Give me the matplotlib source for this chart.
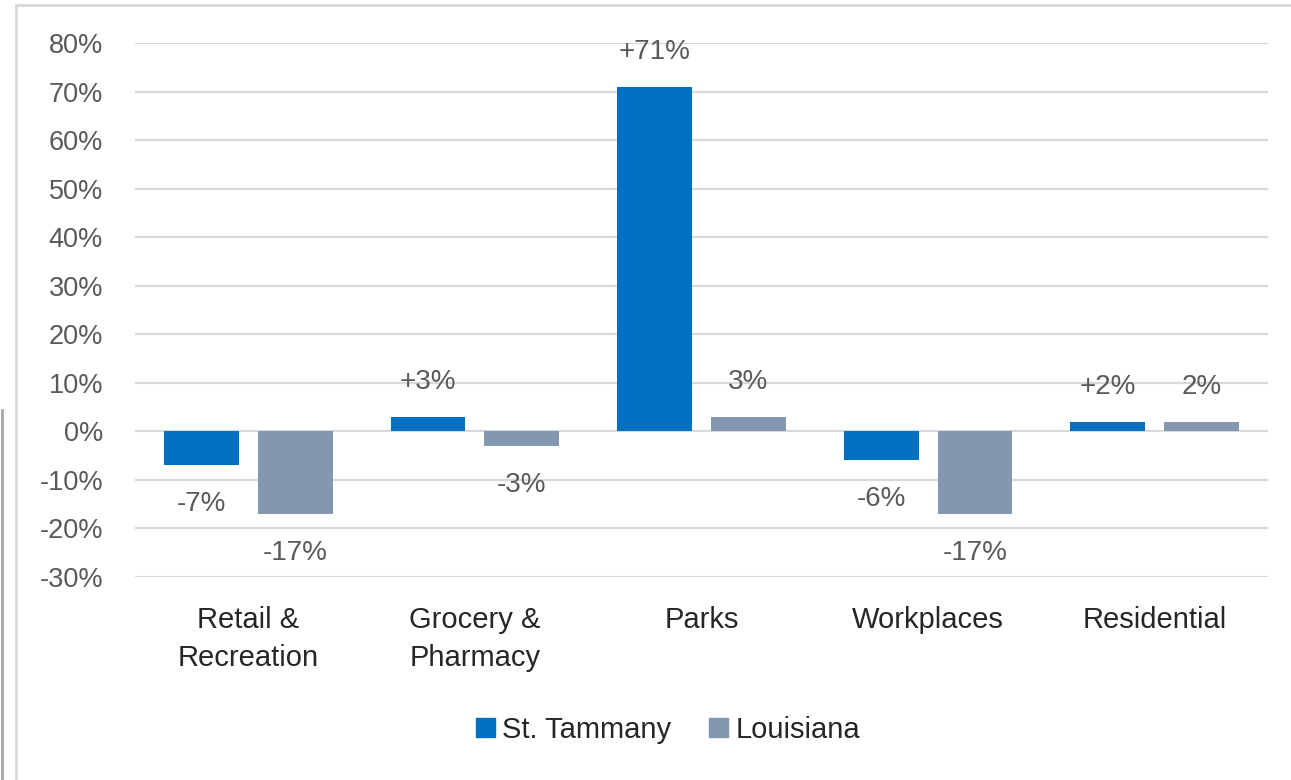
import matplotlib.pyplot as plt
import numpy as np
from matplotlib.lines import Line2D
from matplotlib.patches import Patch

plt.rcParams['font.family'] = ['Liberation Sans', 'DejaVu Sans']

categorias = ['Retail &\nRecreation', 'Grocery &\nPharmacy', 'Parks', 'Workplaces', 'Residential']
st_tammany = [-7, 3, 71, -6, 2]
louisiana = [-17, -3, 3, -17, 2]
etiquetas_st = ['-7%', '+3%', '+71%', '-6%', '+2%']
etiquetas_la = ['-17%', '-3%', '3%', '-17%', '2%']
ticks_y = [-30, -20, -10, 0, 10, 20, 30, 40, 50, 60, 70, 80]

azul = '#0070C0'
gris = '#8497B0'
texto = '#595959'

fig = plt.figure(figsize=(12.91, 7.80), dpi=100)
ax = fig.add_axes([135/1291, 1-577/780, (1268-135)/1291, (577-43)/780])

x = np.arange(len(categorias))
ancho = 0.33
desp = 0.207
b1 = ax.bar(x - desp, st_tammany, ancho, color=azul, zorder=3)
b2 = ax.bar(x + desp, louisiana, ancho, color=gris, zorder=3)

for barras, valores, etiquetas in [(b1, st_tammany, etiquetas_st), (b2, louisiana, etiquetas_la)]:
    for barra, v, et in zip(barras, valores, etiquetas):
        cx = barra.get_x() + barra.get_width()/2
        off = 25 if v >= 0 else -28
        ax.annotate(et, (cx, v), xytext=(0, off), textcoords='offset points',
                    ha='center', va='center', fontsize=20, color=texto)

ax.set_xlim(-0.5, len(categorias) - 0.5)
ax.set_ylim(-30, 80)
ax.set_yticks(ticks_y)
ax.set_yticklabels([f'{t}%' for t in ticks_y])
ax.set_xticks(x)
ax.set_xticklabels(categorias, linespacing=1.45)
ax.tick_params(axis='y', length=0, pad=23, labelsize=19.5, labelcolor=texto)
ax.tick_params(axis='x', length=0, pad=21, labelsize=21, labelcolor='#262626')
ax.grid(axis='y', color='#D9D9D9', linewidth=1.6, zorder=0)
ax.set_axisbelow(True)
for s in ax.spines.values():
    s.set_visible(False)

handles = [Patch(color=azul, label='St. Tammany'), Patch(color=gris, label='Louisiana')]
fig.legend(handles=handles, loc='center', bbox_to_anchor=(668/1291, 1-730/780), ncol=2,
           frameon=False, fontsize=21, handlelength=0.65, handleheight=0.65,
           handletextpad=0.25, columnspacing=1.3, labelcolor='#262626')

# marco de la captura
fig.add_artist(Line2D([16/1291, 1], [1-5/780, 1-5/780], color='#D9D9D9', linewidth=2))
fig.add_artist(Line2D([16/1291, 16/1291], [0, 1-5/780], color='#D9D9D9', linewidth=2))
fig.add_artist(Line2D([2/1291, 2/1291], [0, 1-410/780], color='#A6A6A6', linewidth=2))

fig.savefig('out.png', dpi=100)
